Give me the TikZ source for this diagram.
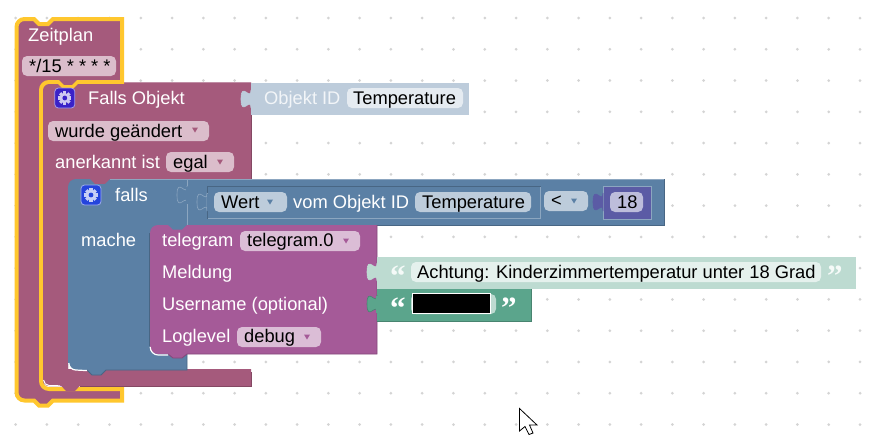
\documentclass[tikz,border=0pt]{standalone}
\usepackage{fontspec}
\setmainfont{Liberation Sans}
\newfontfamily\qfont{Liberation Serif}
\definecolor{plum}{HTML}{A55A7C}
\definecolor{plumhi}{HTML}{C08DA5}
\definecolor{plumlo}{HTML}{844863}
\definecolor{plumpill}{HTML}{DBBDCB}
\definecolor{steel}{HTML}{5B80A5}
\definecolor{steelhi}{HTML}{8CA6C0}
\definecolor{steello}{HTML}{486684}
\definecolor{steelpill}{HTML}{BDCCDB}
\definecolor{paleblue}{HTML}{BDCCDB}
\definecolor{palepill}{HTML}{E5EBF1}
\definecolor{mauve}{HTML}{A55A98}
\definecolor{mauvepill}{HTML}{DBBDD6}
\definecolor{mauvelo}{HTML}{84487A}
\definecolor{palegreen}{HTML}{BDDBD1}
\definecolor{palegreenpill}{HTML}{E5F1ED}
\definecolor{green}{HTML}{5BA58C}
\definecolor{greenlo}{HTML}{488470}
\definecolor{violet}{HTML}{5B5BA5}
\definecolor{violetpill}{HTML}{BDBDDB}
\definecolor{gold}{HTML}{FFC72E}
\definecolor{griddot}{HTML}{D4D4D4}
\definecolor{iconviolet}{HTML}{3A22C8}
\definecolor{iconblue}{HTML}{2444DC}
\tikzset{
  lbl/.style={inner sep=0pt,anchor=base west,text=white,font=\fontsize{18.3}{20}\selectfont},
  val/.style={inner sep=0pt,anchor=base west,text=black,font=\fontsize{18.3}{20}\selectfont},
  qmark/.style={inner sep=0pt,anchor=base west,font=\qfont\bfseries\fontsize{31}{31}\selectfont},
}
\newcommand{\pill}[5]{\fill[#5,rounded corners=5pt] (#1,#2) rectangle (#3,#4);}
\newcommand{\tri}[3]{\fill[#3] (#1-3,#2-2.5) -- (#1+3,#2-2.5) -- (#1,#2+2.5) -- cycle;}
\newcommand{\tabshape}[4]{\path[shift={(#1,#2)},fill=#3,draw=#4,line width=.6pt] (0,0) .. controls (0,12) and (-10,-9.6) .. (-10,9) .. controls (-10,27.6) and (0,6) .. (0,18) -- cycle;}
\newcommand{\gearicon}[3]{%
  \fill[#2,draw=white!55!#2,line width=.8pt,rounded corners=3.5pt] (#1-10,#3-10) rectangle (#1+10,#3+10);
  \fill[white!75!#2] (#1,#3) circle (5);
  \foreach \a in {0,45,...,315}{\fill[white!75!#2,rotate around={\a:(#1,#3)}] (#1-1.6,#3-6.6) rectangle (#1+1.6,#3-3);}
  \fill[#2] (#1,#3) circle (2.4);}
\begin{document}
\begin{tikzpicture}[x=1pt,y=-1pt]
\useasboundingbox (0,0) rectangle (875,440);
\fill[white] (0,0) rectangle (875,440);
% workspace grid
\foreach \i in {0,...,27}{\foreach \j in {0,...,13}{\fill[griddot] (15.7+31.27*\i,18+31.27*\j) circle (1.5);}}
% Falls Objekt block fill
\fill[plum] (41,90) arc[start angle=180,end angle=270,radius=8] -- (251,82) -- (251,179) -- (68,179) -- (68,369) -- (251,369) -- (251,386) -- (49,386) arc[start angle=90,end angle=180,radius=8] -- cycle;
\draw[plumlo,line width=.8pt] (251,115) -- (251,179);
\draw[plumlo,line width=.8pt] (251,372) -- (251,386) -- (80,386);
% Zeitplan block with selection outline
\path[fill=plum,draw=gold,line width=4pt,line join=miter]
  (16.5,27) arc[start angle=180,end angle=270,radius=8] -- (34,19) -- (39,24) -- (48,24) -- (53,19) -- (122,19) -- (122,82)
  -- (78,82) -- (73,87) -- (63,87) -- (58,82) -- (49,82) arc[start angle=270,end angle=180,radius=8]
  -- (41,381) arc[start angle=180,end angle=90,radius=8] -- (122,389) -- (122,400.5) -- (53,400.5) -- (48,405.5) -- (39,405.5) -- (34,400.5)
  -- (24.5,400.5) arc[start angle=90,end angle=180,radius=8] -- cycle;
% fill inside the Falls Objekt block again (over the stroke's inner half)
\fill[plum] (43.2,90) -- (49,84) -- (58,84) -- (63,89) -- (73,89) -- (78,84) -- (122,84) -- (122,186) -- (68,186) -- (68,369) -- (122,369) -- (122,386) -- (49,386) -- (43.2,380) -- cycle;
\fill[plum] (122,84) rectangle (251,179);
\fill[plum] (122,369) rectangle (251,386);
\fill[plum] (61,385.5) -- (66,391) -- (75,391) -- (80,385.5) -- cycle;
\draw[plumhi,line width=.8pt] (124,82.5) -- (251,82.5);
\draw[plumlo,line width=.8pt] (251,372) -- (251,386) -- (80,386);
\draw[white,line width=1pt] (43.6,380) arc[start angle=180,end angle=90,radius=5.5] -- (60,385.8);
% falls block
\fill[steel] (68,187) arc[start angle=180,end angle=270,radius=8] -- (90,179) -- (95,184) -- (105,184) -- (110,179) -- (664,179) -- (664,225) -- (187,225) -- (187,370) -- (106,370) -- (101,375) -- (92,375) -- (87,370) -- (76,370) arc[start angle=90,end angle=180,radius=8] -- cycle;
\draw[steelhi,line width=.8pt] (110,179.4) -- (664,179.4);
\draw[steelhi,line width=.8pt] (187,179) -- (187,186);
\draw[steelhi,line width=.8pt] (187,204) -- (187,225);
\draw[steello,line width=.8pt] (664,179) -- (664,225) -- (187,225);
\draw[steello,line width=.8pt] (187,354) -- (187,370) -- (106,370) -- (101,375) -- (92,375) -- (87,370);
\draw[white,line width=1.2pt] (68.8,363) arc[start angle=180,end angle=90,radius=7] -- (87,370.6);
\tabshape{187}{186}{steel}{steelhi}
\draw[steel,line width=1.2pt] (187,186.5) -- (187,203.5);
% comparison inputs
\path[fill=steel,draw=steelhi,line width=.8pt] (207.8,186.8) rectangle (540,218);
\draw[steello,line width=.8pt] (207,186) -- (540.5,186);
\draw[steello,line width=.8pt] (207,186) -- (207,193);
\draw[steello,line width=.8pt] (207,211) -- (207,218.5);
\tabshape{207}{193}{steel}{steelhi}
\draw[steel,line width=1.4pt] (207.3,193.5) -- (207.3,210.5);
\pill{214}{192}{287}{212}{steelpill}
\tri{270}{202}{steel}
\node[val] (wert) at (221,208) {Wert};
\node[lbl] (vom) at (293,208) {vom Objekt ID};
\pill{415}{192}{531}{212}{steelpill}
\node[val] (temp2) at (422,208) {Temperature};
\pill{544}{191}{588}{211}{steelpill}
\node[val] (lt) at (551,206) {<};
\tri{574}{201}{steel}
\path[fill=violet,draw=steelhi,line width=.8pt] (603,186) rectangle (651,219);
\tabshape{603}{193}{violet}{violet}
\pill{610}{192}{643}{212}{violetpill}
\node[val] (eighteen) at (617,208) {18};
% telegram block
\path[fill=mauve] (150,233) arc[start angle=180,end angle=270,radius=8] -- (168,225) -- (173,229) -- (182,229) -- (187,225) -- (377,225) -- (377,354) -- (187,354) -- (182,358) -- (173,358) -- (168,354) -- (158,354) arc[start angle=90,end angle=180,radius=8] -- cycle;
\fill[steel] (168,224.5) -- (173,229.5) -- (182,229.5) -- (187,224.5) -- cycle;
\draw[mauvelo,line width=.8pt] (377,225) -- (377,354) -- (187,354) -- (182,358) -- (173,358) -- (168,354);
\draw[steello,line width=.8pt] (149.7,233) -- (149.7,346);
\draw[white,line width=1.2pt] (150.2,347) arc[start angle=180,end angle=90,radius=8] -- (168,355);
\pill{240}{231}{360}{251}{mauvepill}
\tri{346}{241}{mauve}
\pill{237}{327}{321}{347}{mauvepill}
\tri{307}{337}{mauve}
\node[lbl] (tg) at (162,246) {telegram};
\node[val] (tg0) at (247,246) {telegram.0};
\node[lbl] (meld) at (162,278) {Meldung};
\node[lbl] (user) at (162,310) {Username (optional)};
\node[lbl] (logl) at (162,342) {Loglevel};
\node[val] (dbg) at (244,342) {debug};
% text blocks
\fill[palegreen] (377,257) rectangle (856,288.5);
\tabshape{377}{263}{palegreen}{palegreen}
\pill{411}{262}{821}{282}{palegreenpill}
\node[val] (msg) at (417,278) {Achtung: Kinderzimmertemperatur unter 18 Grad};
\node[qmark,text=white!85!palegreen] (qa) at (390,286) {“};
\node[qmark,text=white!85!palegreen] (qb) at (827,286) {”};
\fill[green] (377,289) rectangle (531,321);
\draw[greenlo,line width=.8pt] (377,321) -- (531,321) -- (531,289);
\tabshape{377}{295}{green}{greenlo}
\draw[green,line width=1.2pt] (377,295.5) -- (377,312.5);
\pill{411}{294}{496}{314}{palegreen}
\path[fill=black,draw=white,line width=.8pt] (412.6,293.8) rectangle (490.6,313.6);
\node[qmark,text=white] (qc) at (390,318) {“};
\node[qmark,text=white] (qd) at (501,318) {”};
% object id block
\fill[paleblue] (251,82.5) rectangle (469,115);
\tabshape{251}{90}{paleblue}{paleblue}
\node[lbl,text=white!80!paleblue] (oid) at (264,104) {Objekt ID};
\pill{347}{88}{463}{108}{palepill}
\node[val] (temp1) at (353,104) {Temperature};
% field labels of the hat blocks
\node[lbl] (zeit) at (28,41) {Zeitplan};
\pill{22}{56}{116}{76}{plumpill}
\node[val] (cron) at (29,72) {*/15 * * * *};
\gearicon{64.8}{iconviolet}{98}
\node[lbl] (fo) at (88,104) {Falls Objekt};
\pill{48}{121}{209}{141}{plumpill}
\node[val] (wg) at (55,137) {wurde geändert};
\tri{195}{130}{plum}
\node[lbl] (ak) at (55,168) {anerkannt ist};
\pill{166}{152}{234}{172}{plumpill}
\node[val] (eg) at (173,168) {egal};
\tri{220}{162}{plum}
\gearicon{91}{iconblue}{195}
\node[lbl] (fl) at (115,201) {falls};
\node[lbl] (ma) at (81,246) {mache};
% pointer
\path[fill=white,draw=black,line width=.8pt,line join=miter] (519.5,408.5) -- (519.5,431) -- (525,426.5) -- (529,434.5) -- (533,433) -- (529.5,425) -- (537,425) -- cycle;
\end{tikzpicture}
\end{document}
